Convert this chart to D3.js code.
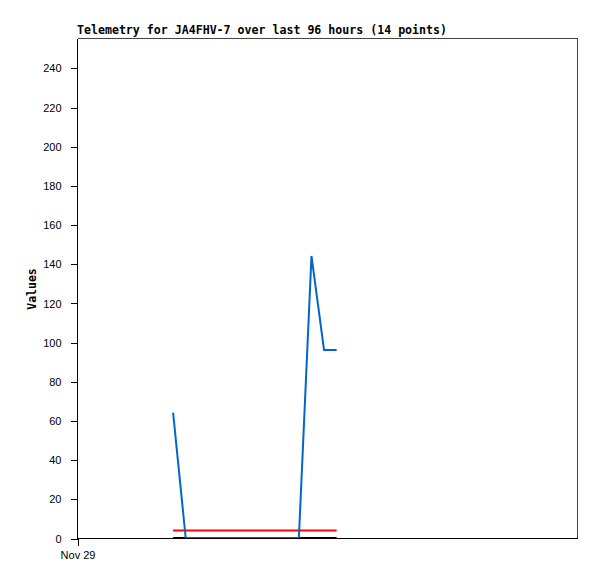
<!DOCTYPE html>
<html>
<head>
<meta charset="utf-8">
<script src="https://cdn.jsdelivr.net/npm/d3@7"></script>
<style>
html,body{margin:0;padding:0;background:#fff;}
svg{display:block;}
</style>
</head>
<body>
<script>
const titleText = "Telemetry for JA4FHV-7 over last 96 hours (14 points)";
const yLabel = "Values";
const xTickLabels = ["Nov 29"];
const xTickHours = [0];
const yTicks = [0,20,40,60,80,100,120,140,160,180,200,220,240];
const hours = [18.45,20.87,23.28,25.70,28.11,30.53,32.94,35.36,37.77,40.19,42.60,45.02,47.43,49.85];
const blueValues = [64,0,0,0,0,0,0,0,0,0,0,144,96,96];
const redValues = [3.8,3.8,3.8,3.8,3.8,3.8,3.8,3.8,3.8,3.8,3.8,3.8,3.8,3.8];
const blackValues = [0,0,0,0,0,0,0,0,0,0,0,0,0,0];

const W = 597, H = 579;
const L = 77, R = 577, T = 38, B = 538;

const svg = d3.select("body").append("svg").attr("width", W).attr("height", H);
svg.append("rect").attr("width", W).attr("height", H).attr("fill", "#fff");

const x = d3.scaleLinear().domain([0, 96]).range([L, R]);
const y = d3.scaleLinear().domain([0, 255.3]).range([B, T]);

// frame
svg.append("path")
  .attr("d", `M${L+0.5},${T+0.5}H${R+0.5}V${B+0.5}`)
  .attr("fill", "none").attr("stroke", "#444").attr("stroke-width", 1)
  .attr("shape-rendering", "crispEdges");

// series
const line = d3.line().x((d, i) => x(hours[i])).y(d => y(d));
function drawSeries(vals, color) {
  svg.append("path").datum(vals)
    .attr("d", line)
    .attr("fill", "none").attr("stroke", color).attr("stroke-width", 2)
    .attr("stroke-linejoin", "miter");
}
drawSeries(redValues, "#ff0000");
drawSeries(blackValues, "#000000");
drawSeries(blueValues, "#0066cc");

// y axis
const yAxis = d3.axisLeft(y).tickValues(yTicks).tickSize(7).tickPadding(9).tickFormat(d3.format("d"));
const gy = svg.append("g").attr("transform", `translate(${L+0.5},0.5)`).call(yAxis);
gy.select(".domain").attr("d", `M0,${T}V${B}`).attr("stroke", "#000");
gy.selectAll("line").attr("stroke", "#000");
gy.selectAll("text").attr("font-family", "Liberation Sans, Arial, sans-serif").attr("font-size", 11).attr("fill", "#000");
gy.attr("shape-rendering", "crispEdges");

// x axis
const xAxis = d3.axisBottom(x).tickValues(xTickHours).tickSize(7).tickPadding(6)
  .tickFormat((d, i) => xTickLabels[i]);
const gx = svg.append("g").attr("transform", `translate(0.5,${B+0.5})`).call(xAxis);
gx.select(".domain").attr("d", `M${L},0H${R}`).attr("stroke", "#000");
gx.selectAll("line").attr("stroke", "#000");
gx.selectAll("text").attr("font-family", "Liberation Sans, Arial, sans-serif").attr("font-size", 11).attr("fill", "#000");
gx.attr("shape-rendering", "crispEdges");

// title
svg.append("text").attr("x", L).attr("y", 34)
  .attr("font-family", "DejaVu Sans Mono, monospace").attr("font-weight", "bold")
  .attr("font-size", 11.5).attr("textLength", 370).attr("lengthAdjust", "spacingAndGlyphs")
  .text(titleText);

// y label
svg.append("text").attr("transform", `translate(36,${(T+B)/2+1}) rotate(-90)`)
  .attr("text-anchor", "middle")
  .attr("font-family", "DejaVu Sans Mono, monospace").attr("font-weight", "bold")
  .attr("font-size", 11.5)
  .text(yLabel);
</script>
</body>
</html>
